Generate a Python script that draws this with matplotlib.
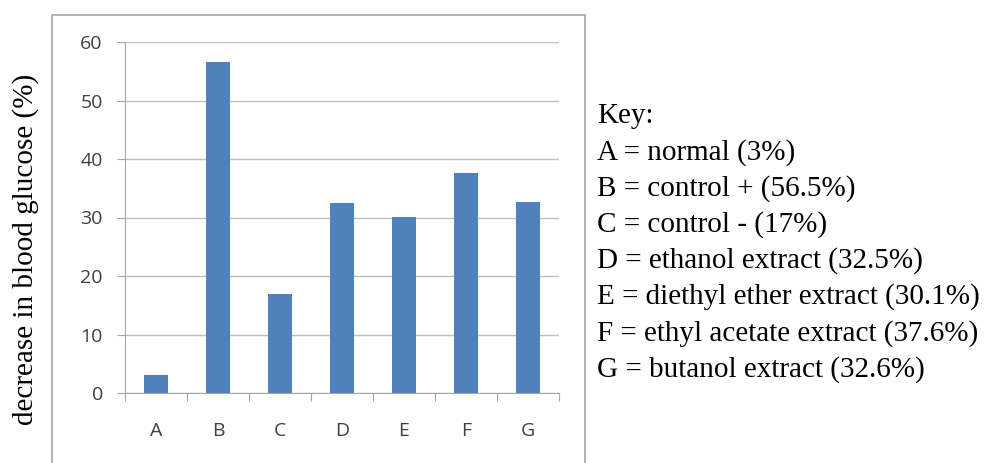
import matplotlib
matplotlib.use("Agg")
import matplotlib.pyplot as plt
from matplotlib.patches import Rectangle

groups = ["A", "B", "C", "D", "E", "F", "G"]
values = [3, 56.5, 17, 32.5, 30.1, 37.6, 32.6]
key_lines = ["Key:",
             "A = normal (3%)",
             "B = control + (56.5%)",
             "C = control - (17%)",
             "D = ethanol extract (32.5%)",
             "E = diethyl ether extract (30.1%)",
             "F = ethyl acetate extract (37.6%)",
             "G = butanol extract (32.6%)"]

W, H = 984, 463
fig = plt.figure(figsize=(W / 100, H / 100), dpi=100)

# chart frame (runs off the bottom of the picture)
fig.patches.append(Rectangle((52 / W, -0.05), (585 - 52) / W, 1.05 - 15 / H,
                             transform=fig.transFigure, fill=False,
                             edgecolor="#a6a6a6", linewidth=1.2))

# plot area
x0, x1, y0, y1 = 125, 559, 393, 42
ax = fig.add_axes([x0 / W, 1 - y0 / H, (x1 - x0) / W, (y0 - y1) / H])
xs = range(len(groups))
ax.bar(xs, values, width=0.4, color="#4f81bd", zorder=3)
ax.set_xlim(-0.5, len(groups) - 0.5)
ax.set_ylim(0, 60)
ax.set_yticks(range(0, 61, 10))
ax.yaxis.grid(True, color="#bfbfbf", linewidth=1.0, zorder=0)
for s in ["top", "right"]:
    ax.spines[s].set_visible(False)
for s in ["left", "bottom"]:
    ax.spines[s].set_color("#a6a6a6")
ax.set_xticks([i - 0.5 for i in range(len(groups) + 1)])
ax.set_xticklabels([])
ax.set_xticks(list(xs), minor=True)
ax.set_xticklabels(groups, minor=True)
ax.tick_params(axis="x", which="major", length=6, color="#a6a6a6", direction="out")
ax.tick_params(axis="x", which="minor", length=0, pad=21, labelsize=14, labelcolor="#404040")
ax.tick_params(axis="y", length=6, color="#a6a6a6", pad=10, labelsize=14, labelcolor="#404040")
for lab in ax.get_xticklabels(minor=True) + ax.get_yticklabels():
    lab.set_fontfamily("Open Sans")

fig.text(26 / W, 1 - 249 / H, "decrease in blood glucose (%)", rotation=90,
         ha="center", va="center", fontsize=21, family="Liberation Serif")

for i, line in enumerate(key_lines):
    fig.text(597 / W, 1 - (123 + i * 36.2) / H, line, ha="left", va="baseline",
             fontsize=21, family="Liberation Serif")

fig.savefig("out.png", dpi=100)
